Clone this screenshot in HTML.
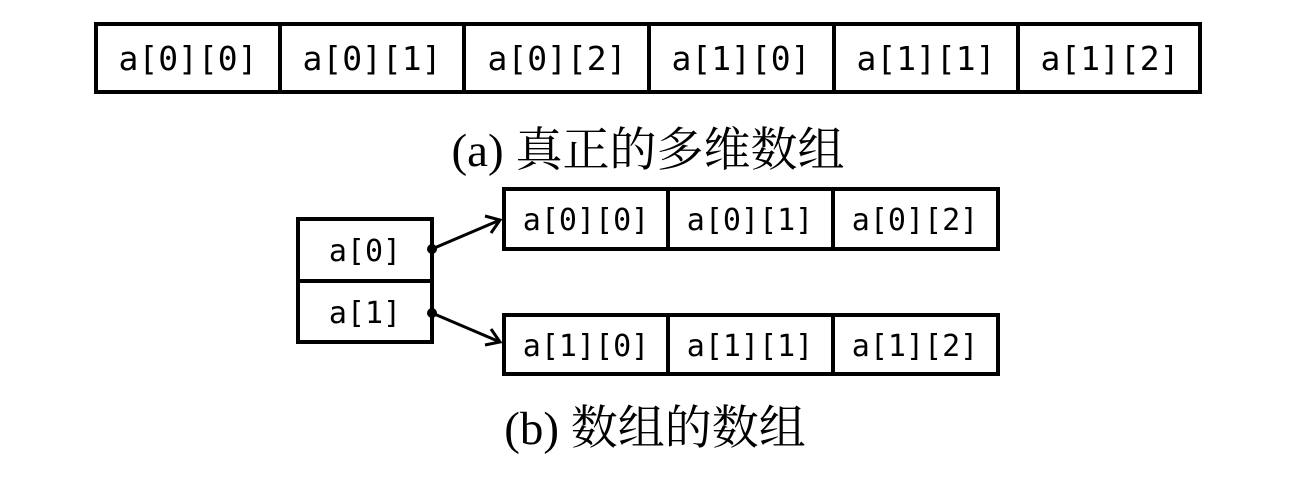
<!DOCTYPE html>
<html><head><meta charset="utf-8"><style>
html,body{margin:0;padding:0;background:#fff;width:1304px;height:478px;overflow:hidden}
svg text{font-family:"DejaVu Sans Mono","Liberation Mono",monospace;fill:#000}
.cap{font-family:"Liberation Serif","Noto Serif CJK SC",serif}
</style></head><body>
<svg width="1304" height="478" viewBox="0 0 1304 478" xmlns="http://www.w3.org/2000/svg">
<g fill="none" stroke="#000" stroke-width="4">
<rect x="96" y="24" width="1104" height="68"/>
<line x1="280" y1="24" x2="280" y2="92"/><line x1="464" y1="24" x2="464" y2="92"/>
<line x1="649" y1="24" x2="649" y2="92"/><line x1="834" y1="24" x2="834" y2="92"/>
<line x1="1018" y1="24" x2="1018" y2="92"/>
<rect x="298" y="219" width="134" height="123"/>
<line x1="298" y1="281" x2="432" y2="281"/>
<rect x="504" y="189" width="494" height="60"/>
<line x1="668" y1="189" x2="668" y2="249"/><line x1="833" y1="189" x2="833" y2="249"/>
<rect x="504" y="315" width="494" height="59"/>
<line x1="668" y1="315" x2="668" y2="374"/><line x1="833" y1="315" x2="833" y2="374"/>
<g stroke-width="3">
<line x1="432" y1="249" x2="500" y2="220"/>
<polyline points="485,216 500,220 491,233"/>
<line x1="432" y1="313" x2="500" y2="342"/>
<polyline points="491,329 500,342 485,345"/>
</g>
</g>
<circle cx="432" cy="249" r="5"/><circle cx="432" cy="313" r="5"/>
<g font-size="33" text-anchor="middle">
<text x="188" y="70">a[0][0]</text><text x="372" y="70">a[0][1]</text>
<text x="557" y="70">a[0][2]</text><text x="741" y="70">a[1][0]</text>
<text x="926" y="70">a[1][1]</text><text x="1110" y="70">a[1][2]</text>
</g>
<g font-size="30" text-anchor="middle">
<text x="365" y="261">a[0]</text><text x="365" y="323">a[1]</text>
<text x="586" y="230">a[0][0]</text><text x="750" y="230">a[0][1]</text><text x="915" y="230">a[0][2]</text>
<text x="586" y="356">a[1][0]</text><text x="750" y="356">a[1][1]</text><text x="915" y="356">a[1][2]</text>
</g>
<text class="cap" x="648" y="166" font-size="47" text-anchor="middle">(a) 真正的多维数组</text>
<text class="cap" x="655" y="444" font-size="47" text-anchor="middle">(b) 数组的数组</text>
</svg>
</body></html>
